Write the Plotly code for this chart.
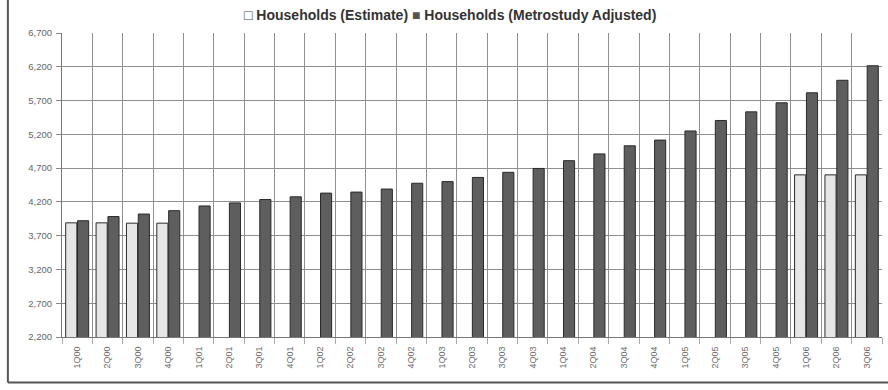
import plotly.graph_objects as go

quarters = ["1Q00", "2Q00", "3Q00", "4Q00", "1Q01", "2Q01", "3Q01", "4Q01",
            "1Q02", "2Q02", "3Q02", "4Q02", "1Q03", "2Q03", "3Q03", "4Q03",
            "1Q04", "2Q04", "3Q04", "4Q04", "1Q05", "2Q05", "3Q05", "4Q05",
            "1Q06", "2Q06", "3Q06"]

households_estimate = [3890, 3890, 3885, 3885] + [None] * 20 + [4600, 4600, 4600]

households_adjusted = [3921, 3983, 4020, 4070, 4140, 4185, 4235, 4275,
                       4330, 4345, 4390, 4476, 4500, 4562, 4638, 4695,
                       4810, 4910, 5030, 5115, 5250, 5405, 5533, 5667,
                       5815, 6000, 6215]

y_ticks = [2200, 2700, 3200, 3700, 4200, 4700, 5200, 5700, 6200, 6700]

series_names = ["Households (Estimate)", "Households (Metrostudy Adjusted)"]
light_fill = "#e6e6e6"
dark_fill = "#5e5e5e"
outline = "#2a2a2a"

fig = go.Figure()
fig.add_trace(go.Bar(
    x=quarters, y=households_estimate, name=series_names[0],
    marker=dict(color=light_fill, line=dict(color=outline, width=1)),
))
fig.add_trace(go.Bar(
    x=quarters, y=households_adjusted, name=series_names[1],
    marker=dict(color=dark_fill, line=dict(color=outline, width=1)),
))

fig.update_layout(
    width=888, height=390,
    margin=dict(l=62, r=6, t=33, b=53),
    paper_bgcolor="white", plot_bgcolor="white",
    barmode="group", bargap=0.22, bargroupgap=0.06,
    font=dict(family="Liberation Sans, Arial, sans-serif", color="#444"),
    showlegend=False,
)

legend_text = (
    "<span style='color:#444'>□</span> " + series_names[0] +
    " <span style='color:#555'>■</span> " + series_names[1]
)
fig.add_annotation(
    xref="paper", yref="paper", x=0.473, y=1.0, yshift=18,
    xanchor="center", yanchor="middle", showarrow=False,
    text="<b>" + legend_text + "</b>",
    font=dict(size=14, color="#333", family="Liberation Sans, Arial, sans-serif"),
)

fig.update_xaxes(
    type="category", tickson="boundaries", tickangle=-90,
    tickfont=dict(size=9, color="#6a6a6a"),
    showgrid=True, gridcolor="#8f8f8f", gridwidth=1,
    showline=True, linecolor="#777", linewidth=1,
    ticks="outside", ticklen=6, tickcolor="#aaa",
    ticklabelstandoff=5,
)
fig.update_yaxes(
    range=[2200, 6700], tickvals=y_ticks, tickformat=",",
    tickfont=dict(size=9.5, color="#666"),
    showgrid=True, gridcolor="#8f8f8f", gridwidth=1,
    showline=True, linecolor="#777", linewidth=1,
    ticks="outside", ticklen=5, tickcolor="#888",
    ticklabelstandoff=2,
    zeroline=False,
)

# scanned frame: left and bottom edges
fig.add_shape(type="line", xref="paper", yref="paper",
              x0=-0.066, x1=-0.066, y0=-0.15, y1=1.12,
              line=dict(color="#555", width=2))
fig.add_shape(type="line", xref="paper", yref="paper",
              x0=-0.066, x1=1.01, y0=-0.15, y1=-0.15,
              line=dict(color="#555", width=2))

fig.write_html("out.html")
